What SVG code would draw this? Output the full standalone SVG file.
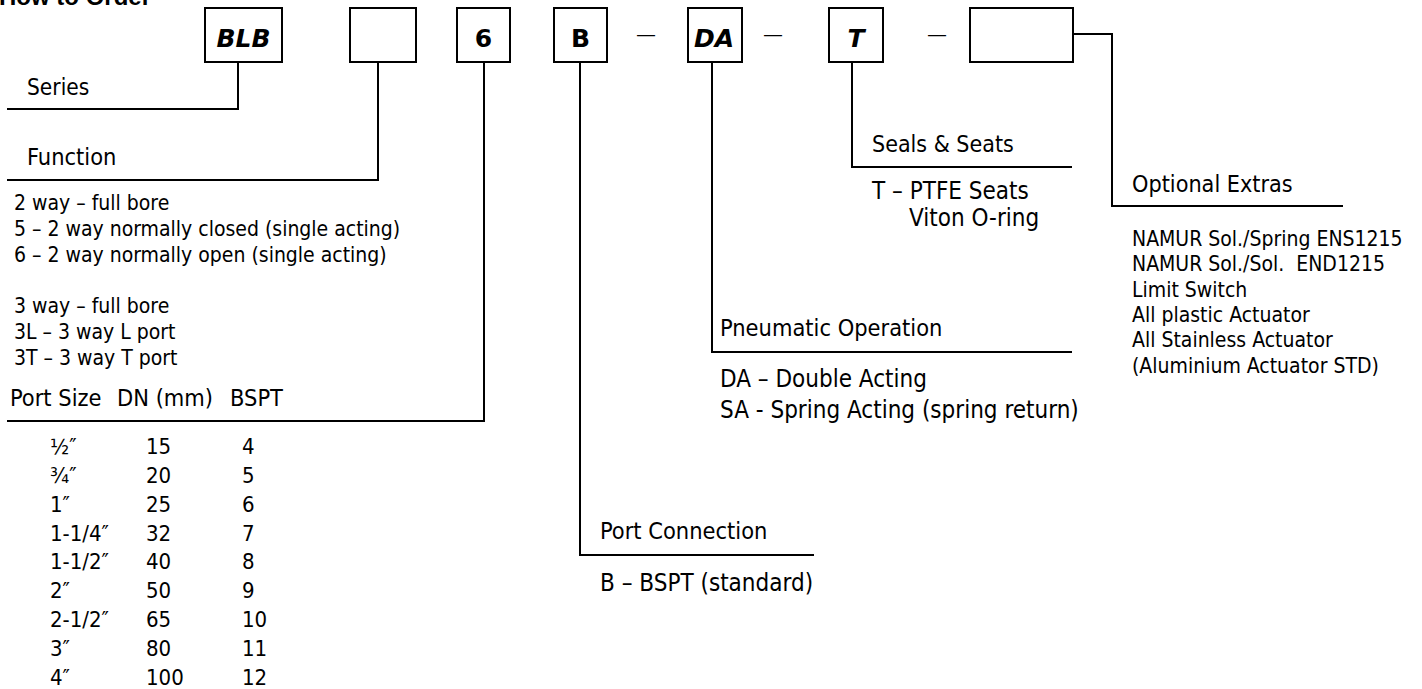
<svg xmlns="http://www.w3.org/2000/svg" width="1422" height="689" viewBox="0 0 1422 689">
<style>
text{font-family:"DejaVu Sans Condensed","DejaVu Sans",sans-serif;fill:#000}
.h{font-size:23.4px}
.b{font-size:21px}
.bl{font-size:24px}
.t{font-size:22px}
.o{font-size:21px}
.lbl{font-family:"DejaVu Sans",sans-serif;font-weight:bold;font-size:25px;text-anchor:middle}
.it{font-style:italic}
.box{fill:#fff;stroke:#000;stroke-width:2}
.ln{fill:none;stroke:#000;stroke-width:2}
.dash{font-family:"DejaVu Sans",sans-serif;font-size:20px;text-anchor:middle}
.title{font-family:"Liberation Sans",Arial,sans-serif;font-weight:bold;font-size:24px}
</style>
<text class="title" x="-1" y="5">How to Order</text>

<g id="connectors">
<polyline class="ln" points="238,62 238,109 7,109"/>
<polyline class="ln" points="378,62 378,180 7,180"/>
<polyline class="ln" points="484,62 484,421 7,421"/>
<polyline class="ln" points="580,62 580,555 814,555"/>
<polyline class="ln" points="712,62 712,352 1072,352"/>
<polyline class="ln" points="852,62 852,167 1072,167"/>
<polyline class="ln" points="1073,34 1112,34 1112,206 1343,206"/>
</g>

<g id="code">
<g id="box-series"><rect class="box" x="205" y="8" width="77" height="54"/><text class="lbl it" x="243.5" y="47">BLB</text></g>
<g id="box-function"><rect class="box" x="350" y="8" width="66" height="54"/></g>
<g id="box-size"><rect class="box" x="457" y="8" width="53" height="54"/><text class="lbl" x="483.5" y="47">6</text></g>
<g id="box-port"><rect class="box" x="554" y="8" width="53" height="54"/><text class="lbl" x="580.5" y="47">B</text></g>
<text class="dash" x="646" y="41">—</text>
<g id="box-operation"><rect class="box" x="688" y="8" width="54" height="54"/><text class="lbl it" x="714" y="47">DA</text></g>
<text class="dash" x="773" y="41">—</text>
<g id="box-seals"><rect class="box" x="829" y="8" width="54" height="54"/><text class="lbl it" x="856" y="47">T</text></g>
<text class="dash" x="937" y="41">—</text>
<g id="box-extras"><rect class="box" x="970" y="8" width="103" height="54"/></g>
</g>

<g id="series"><text class="h" x="27" y="95" style="font-size:22.5px">Series</text></g>

<g id="function">
<text class="h" x="27" y="165">Function</text>
<text class="b" x="14" y="210">2 way – full bore</text>
<text class="b" x="14" y="236">5 – 2 way normally closed (single acting)</text>
<text class="b" x="14" y="262">6 – 2 way normally open (single acting)</text>
<text class="b" x="14" y="313">3 way – full bore</text>
<text class="b" x="14" y="339">3L – 3 way L port</text>
<text class="b" x="14" y="365">3T – 3 way T port</text>
</g>

<g id="port-size">
<text class="h" y="406"><tspan x="10">Port Size</tspan><tspan x="117">DN (mm)</tspan><tspan x="230">BSPT</tspan></text>
<text class="t" x="50" y="454">½″</text><text class="t" x="146" y="454">15</text><text class="t" x="242" y="454">4</text>
<text class="t" x="50" y="483">¾″</text><text class="t" x="146" y="483">20</text><text class="t" x="242" y="483">5</text>
<text class="t" x="50" y="512">1″</text><text class="t" x="146" y="512">25</text><text class="t" x="242" y="512">6</text>
<text class="t" x="50" y="541">1-1/4″</text><text class="t" x="146" y="541">32</text><text class="t" x="242" y="541">7</text>
<text class="t" x="50" y="569">1-1/2″</text><text class="t" x="146" y="569">40</text><text class="t" x="242" y="569">8</text>
<text class="t" x="50" y="598">2″</text><text class="t" x="146" y="598">50</text><text class="t" x="242" y="598">9</text>
<text class="t" x="50" y="627">2-1/2″</text><text class="t" x="146" y="627">65</text><text class="t" x="242" y="627">10</text>
<text class="t" x="50" y="656">3″</text><text class="t" x="146" y="656">80</text><text class="t" x="242" y="656">11</text>
<text class="t" x="50" y="685">4″</text><text class="t" x="146" y="685">100</text><text class="t" x="242" y="685">12</text>
</g>

<g id="port-connection">
<text class="h" x="600" y="539">Port Connection</text>
<text class="bl" x="600" y="591">B – BSPT (standard)</text>
</g>

<g id="pneumatic-operation">
<text class="h" x="720" y="336">Pneumatic Operation</text>
<text class="bl" x="720" y="387">DA – Double Acting</text>
<text class="bl" x="720" y="418">SA - Spring Acting (spring return)</text>
</g>

<g id="seals-seats">
<text class="h" x="872" y="152" style="font-size:23px">Seals &amp; Seats</text>
<text class="bl" x="872" y="199">T – PTFE Seats</text>
<text class="bl" x="909" y="226">Viton O-ring</text>
</g>

<g id="optional-extras">
<text class="h" x="1132" y="192" style="font-size:23.2px">Optional Extras</text>
<text class="o" x="1132" y="246">NAMUR Sol./Spring ENS1215</text>
<text class="o" x="1132" y="271" style="white-space:pre">NAMUR Sol./Sol.  END1215</text>
<text class="o" x="1132" y="297">Limit Switch</text>
<text class="o" x="1132" y="322">All plastic Actuator</text>
<text class="o" x="1132" y="347">All Stainless Actuator</text>
<text class="o" x="1132" y="373">(Aluminium Actuator STD)</text>
</g>
</svg>
